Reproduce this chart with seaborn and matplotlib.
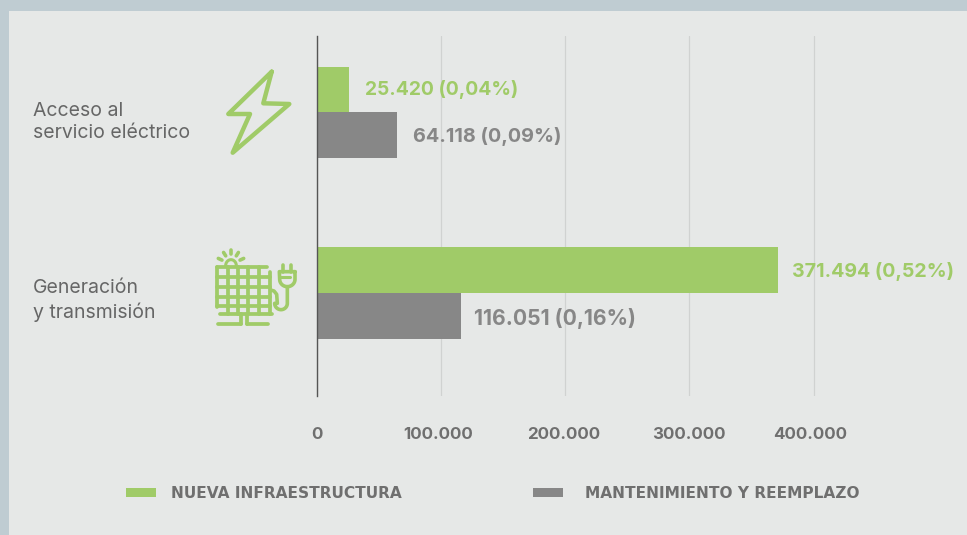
import numpy as np
import pandas as pd
import matplotlib
matplotlib.use("Agg")
import matplotlib.pyplot as plt
from matplotlib.lines import Line2D
from matplotlib.patches import Rectangle, Patch
from matplotlib.transforms import Affine2D, ScaledTranslation
import seaborn as sns

categories = ["Acceso al\nservicio eléctrico", "Generación\ny transmisión"]
series_names = ["NUEVA INFRAESTRUCTURA", "MANTENIMIENTO Y REEMPLAZO"]
nueva = [25420, 371494]
mantenimiento = [64118, 116051]
nueva_labels = ["25.420 (0,04%)", "371.494 (0,52%)"]
mant_labels = ["64.118 (0,09%)", "116.051 (0,16%)"]
tick_values = [0, 100000, 200000, 300000, 400000]
tick_labels = ["0", "100.000", "200.000", "300.000", "400.000"]

GREEN = "#A0CB68"
GRAY = "#878787"
PANEL = "#E6E8E7"
OUTER = "#BFCCD2"
W, H = 967, 535

sns.set_theme(style="white")
plt.rcParams["font.family"] = ["Inter", "DejaVu Sans"]

fig = plt.figure(figsize=(W / 100, H / 100), dpi=100, facecolor=OUTER)
# pixel transform, y measured from the top of the picture
px = Affine2D().scale(1, -1).translate(0, H)
fig.add_artist(Rectangle((9, 11), W - 9, H - 11, transform=px, facecolor=PANEL, edgecolor="none", zorder=-5))

left, right, top, bottom = 317, 937, 36, 396
ax = fig.add_axes([left / W, 1 - bottom / H, (right - left) / W, (bottom - top) / H])
ax.patch.set_alpha(0)

df = pd.DataFrame({
    "cat": categories * 2,
    "serie": [series_names[0]] * 2 + [series_names[1]] * 2,
    "valor": nueva + mantenimiento,
})
sns.barplot(data=df, y="cat", x="valor", hue="serie", order=categories, hue_order=series_names,
            palette=[GREEN, GRAY], width=0.505, gap=0, saturation=1, legend=False, ax=ax, zorder=3,
            linewidth=0, edgecolor="none")

ax.set_xlim(0, 620 / 1.2415 * 1000)
spacing = 180.5
c0 = 112.5
ax.set_ylim((bottom - c0) / spacing, (top - c0) / spacing)
ax.set_xlabel("")
ax.set_ylabel("")
ax.set_xticks(tick_values)
ax.set_xticklabels(tick_labels, fontsize=12.2, fontweight="bold", color="#6F6F6F")
ax.tick_params(axis="x", length=0, pad=22)
for lab, dx in zip(ax.get_xticklabels(), [0, -3, -2, -1, -3]):
    lab.set_transform(lab.get_transform() + ScaledTranslation(dx / 100, 0, fig.dpi_scale_trans))
ax.set_yticks(range(len(categories)))
ax.set_yticklabels([])
ax.tick_params(axis="y", length=0)
ax.grid(axis="x", color="#D0D2D1", lw=0.9, zorder=0)
ax.set_axisbelow(True)
for s in ["top", "right", "bottom"]:
    ax.spines[s].set_visible(False)
ax.spines["left"].set_color("#555555")
ax.spines["left"].set_linewidth(1)
ax.spines["left"].set_zorder(5)

for i, (v, lab, off, fs) in enumerate(zip(nueva, nueva_labels, [(16, 0), (14, -1)], [13.9, 14.1])):
    ax.annotate(lab, (v, i - 0.126), xytext=off, textcoords="offset pixels", va="center", ha="left",
                color=GREEN, fontsize=fs, fontweight="bold", zorder=6)
for i, (v, lab, off, fs) in enumerate(zip(mantenimiento, mant_labels, [(16, -1), (13, -3)], [14.3, 15.2])):
    ax.annotate(lab, (v, i + 0.126), xytext=off, textcoords="offset pixels", va="center", ha="left",
                color=GRAY, fontsize=fs, fontweight="bold", zorder=6)

# category names
for (yy, lab) in zip([122, 300.5], categories):
    fig.text(33 / W, 1 - yy / H, lab, fontsize=14, color="#666666", va="center", ha="left",
             linespacing=1.32)

# legend
handles = [Patch(facecolor=GREEN, label=series_names[0]), Patch(facecolor=GRAY, label=series_names[1])]
for h, x0, tx in zip(handles, [126, 533], [171, 585]):
    fig.add_artist(Rectangle((x0, 488), 30, 9, transform=px, facecolor=h.get_facecolor(), edgecolor="none"))
    fig.text(tx / W, 1 - 493.5 / H, h.get_label(), fontsize=11.1, fontweight="bold", color="#6F6F6F",
             va="center", ha="left", family="DejaVu Sans")

# icons, drawn in picture pixels
def stroke(xs, ys, lw=2.9):
    fig.add_artist(Line2D(xs, ys, transform=px, color=GREEN, lw=lw, solid_capstyle="round",
                          solid_joinstyle="round", zorder=4))

bolt_x = [271.7, 263.3, 289.3, 232.7, 250, 228.3, 271.7]
bolt_y = [71.7, 103.3, 104, 152.7, 114, 114, 71.7]
stroke(bolt_x, bolt_y, lw=3.2)

zx = lambda v: 200 + np.asarray(v, float) / 3
zy = lambda v: 235 + np.asarray(v, float) / 3
G = 2.7
for x in [50, 83, 113, 145, 178, 210]:
    y0 = 110 if x == 210 else 95
    y1 = 237 if x != 50 else 215
    stroke(zx([x, x]), zy([y0, y1]), lw=G)
for y, (a, b) in zip([95, 125, 155, 185, 212, 237], [(50, 200), (50, 210), (50, 210), (50, 210), (50, 210), (60, 215)]):
    stroke(zx([a, b]), zy([y, y]), lw=G)
for x in [122, 140]:
    stroke(zx([x, x]), zy([237, 268]), lw=G)
stroke(zx([55, 122]), zy([268, 268]), lw=G)
stroke(zx([140, 205]), zy([268, 268]), lw=G)
t = np.linspace(np.pi, 2 * np.pi, 20)
stroke(zx(93 + 16 * np.cos(t)), zy(92 + 18 * np.sin(t)), lw=2.2)
for a in [205, 238, 270, 302, 335]:
    r = np.radians(a)
    stroke(zx([93 + 30 * np.cos(r), 93 + 42 * np.cos(r)]), zy([88 + 30 * np.sin(r), 88 + 42 * np.sin(r)]), lw=2.6)
# plug
t = np.linspace(0, np.pi, 20)
stroke(zx(np.r_[285, 262 + 23 * np.cos(t), 238.0, 285]), zy(np.r_[110, 133 + 22 * np.sin(t), 110, 110]), lw=2.6)
stroke(zx([248, 248]), zy([90, 110]), lw=2.6)
stroke(zx([272, 272]), zy([90, 110]), lw=2.6)
stroke(zx([242, 270]), zy([126, 126]), lw=2.2)
t = np.linspace(np.pi, 0, 20)
cx = np.r_[212, 222, 230, 232, 243 + 19 * np.cos(t)]
cy = np.r_[165, 168, 178, 205, 205 + 19 * np.sin(t)]
stroke(zx(np.r_[cx, 262]), zy(np.r_[cy, 155]), lw=2.6)

fig.savefig("out.png", dpi=100, facecolor=OUTER)
